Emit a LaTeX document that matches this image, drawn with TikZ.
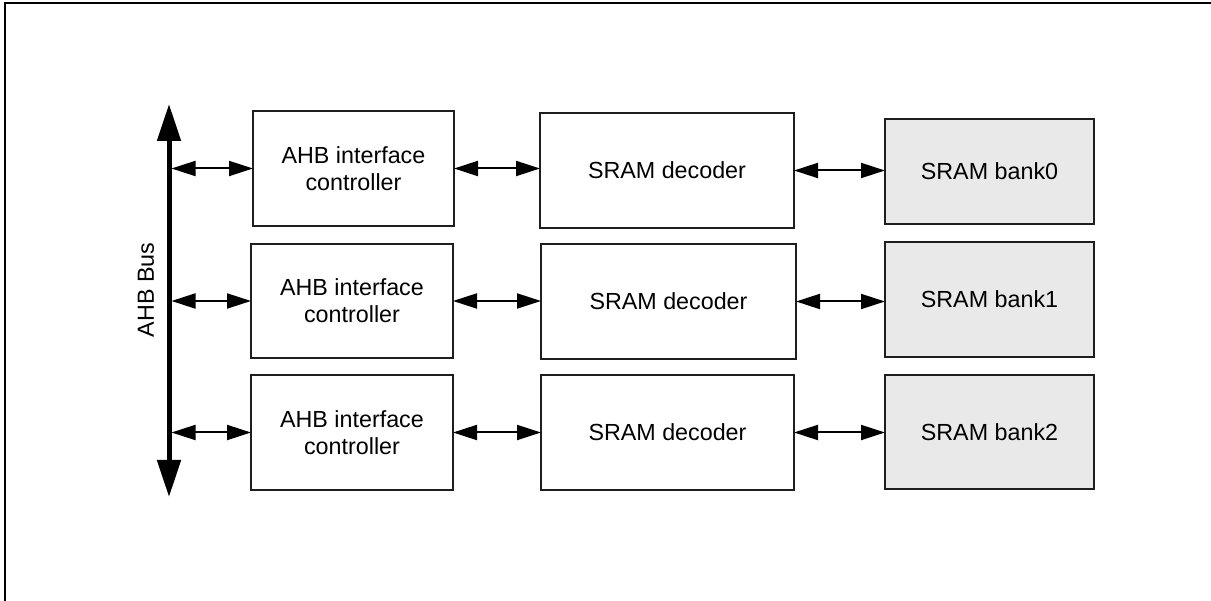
\documentclass[tikz,border=0pt]{standalone}
\usepackage{fontspec}
\setmainfont{Liberation Sans}
\usetikzlibrary{arrows.meta}
\definecolor{bankfill}{RGB}{233,233,233}
\definecolor{edge}{RGB}{30,30,30}
\begin{document}
\begin{tikzpicture}[x=1pt,y=-1pt,
  blk/.style={draw=edge, line width=1.6pt, inner sep=0pt, outer sep=0pt, align=center,
    font=\fontsize{23.3}{27}\selectfont},
  bank/.style={blk, fill=bankfill},
  conn/.style={line width=2pt, {Triangle[length=24pt,width=15pt]}-{Triangle[length=24pt,width=15pt]}},
  busline/.style={line width=5pt, {Triangle[length=37pt,width=23pt]}-{Triangle[length=37pt,width=23pt]}}
]
\useasboundingbox (0,0) rectangle (1211,601);
% frame (top and left only)
\draw[line width=2.2pt] (5,601) -- (5,3) -- (1211,3);

% blocks
\node[blk, minimum width=201pt, minimum height=115pt] (ahb1) at (353.5,168.5) {AHB interface\\controller};
\node[blk, minimum width=202pt, minimum height=114pt] (ahb2) at (352,301) {AHB interface\\controller};
\node[blk, minimum width=202pt, minimum height=115pt] (ahb3) at (352,432.5) {AHB interface\\controller};

\node[blk, minimum width=254pt, minimum height=115pt] (dec1) at (667,170.5) {SRAM decoder};
\node[blk, minimum width=255pt, minimum height=115pt] (dec2) at (668.5,301.5) {SRAM decoder};
\node[blk, minimum width=253pt, minimum height=115pt] (dec3) at (667.5,432.5) {SRAM decoder};

\node[bank, minimum width=209pt, minimum height=105pt] (bank0) at (989.5,171.5) {SRAM bank0};
\node[bank, minimum width=209pt, minimum height=115pt] (bank1) at (989.5,299.5) {SRAM bank1};
\node[bank, minimum width=209pt, minimum height=114pt] (bank2) at (989.5,432) {SRAM bank2};

% bus
\coordinate (busT) at (169,104);
\coordinate (busB) at (169,497);
\coordinate (busEdge) at (171.5,300);
\draw[busline] (busT) -- (busB);
\node[font=\fontsize{23.3}{27}\selectfont, rotate=90] (buslabel) at (146,290) {AHB Bus};

% connectors
\foreach \i in {1,2,3}{
  \draw[conn] (ahb\i.west -| busEdge) -- (ahb\i.west);
  \draw[conn] (ahb\i.east) -- (ahb\i.east -| dec\i.west);
}
\draw[conn] (dec1.east) -- (dec1.east -| bank0.west);
\draw[conn] (dec2.east) -- (dec2.east -| bank1.west);
\draw[conn] (dec3.east) -- (dec3.east -| bank2.west);
\end{tikzpicture}
\end{document}
